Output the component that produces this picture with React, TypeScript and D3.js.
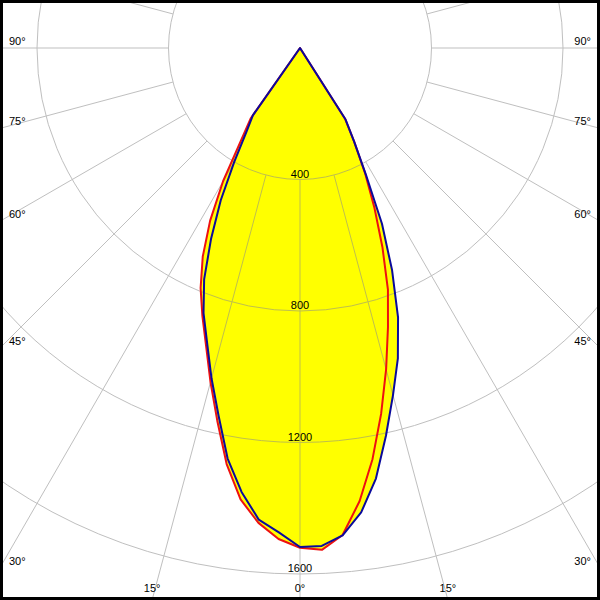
import { useRef, useEffect } from 'react';
import * as d3 from 'd3';

// ---------------------------------------------------------------------------
// Data (cd)
// ---------------------------------------------------------------------------

const ANGLES = [0, 2.5, 5, 7.5, 10, 12.5, 15, 17.5, 20, 22.5, 25, 27.5, 30, 32.5, 35, 37.5, 40];

// red plane: right half / left half
const RED_RIGHT = [1520, 1528, 1487, 1390, 1270, 1140, 1012, 890, 782, 655, 535, 428, 330, 255, 0, 0, 0];
const RED_LEFT = [1520, 1495, 1450, 1385, 1285, 1162, 1052, 950, 868, 790, 700, 592, 468, 335, 262, 0, 0];

// blue plane: right half / left half
const BLUE_RIGHT = [1518, 1516, 1488, 1425, 1330, 1208, 1093, 990, 872, 732, 590, 434, 330, 258, 0, 0, 0];
const BLUE_LEFT = [1518, 1475, 1440, 1362, 1268, 1145, 1040, 940, 858, 762, 640, 522, 400, 305, 250, 0, 0];

const RINGS = [400, 800, 1200, 1600, 2000, 2400];
const RING_LABELS = ['400', '800', '1200', '1600'];
const SPOKES = [0, 15, 30, 45, 60, 75, 90, 105, 120, 135, 150, 165, 180, 195, 210, 225, 240, 255, 270, 285, 300, 315, 330, 345];
const SIDE_LABELS = [90, 75, 60, 45, 30];
const BOTTOM_LABELS = [-15, 0, 15];

// ---------------------------------------------------------------------------
// Look
// ---------------------------------------------------------------------------

const W = 600;
const H = 600;
const CX = 300;
const CY = 48;
const FILL = '#ffff00';
const RED = '#ee1010';
const BLUE = '#0a0a9c';
const GRID = '#8c8c8c';
const FONT = '"Liberation Sans", Arial, sans-serif';

export default function App() {
  const svgRef = useRef<SVGSVGElement>(null);

  useEffect(() => {
    if (!svgRef.current) return;
    const svg = d3.select(svgRef.current);
    svg.selectAll('*').remove();

    const r = d3.scaleLinear().domain([0, 1600]).range([0, 526]);

    // angle measured from straight down, positive to the right
    const pt = (deg: number, v: number, side: number): [number, number] => {
      const a = (deg * Math.PI) / 180;
      return [CX + side * r(v) * Math.sin(a), CY + r(v) * Math.cos(a)];
    };

    const outline = (right: number[], left: number[]) => {
      const pts: [number, number][] = [];
      for (let i = ANGLES.length - 1; i >= 0; i--) pts.push(pt(ANGLES[i], left[i], -1));
      for (let i = 1; i < ANGLES.length; i++) pts.push(pt(ANGLES[i], right[i], 1));
      return pts;
    };

    const line = d3.line<[number, number]>().curve(d3.curveLinearClosed);
    const redPts = outline(RED_RIGHT, RED_LEFT);
    const bluePts = outline(BLUE_RIGHT, BLUE_LEFT);

    svg.append('rect').attr('width', W).attr('height', H).attr('fill', '#fff');

    // yellow fill is the union of both planes
    [redPts, bluePts].forEach((p) => {
      svg.append('path').attr('d', line(p)).attr('fill', FILL).attr('stroke', 'none');
    });

    // grid on top of the fill
    const grid = svg.append('g').attr('opacity', 0.55);
    grid.selectAll('circle')
      .data(RINGS)
      .join('circle')
      .attr('cx', CX)
      .attr('cy', CY)
      .attr('r', (d: number) => r(d))
      .attr('fill', 'none')
      .attr('stroke', GRID)
      .attr('stroke-width', 1);

    grid.selectAll('line')
      .data(SPOKES)
      .join('line')
      .attr('x1', (d: number) => pt(d, RINGS[0], 1)[0])
      .attr('y1', (d: number) => pt(d, RINGS[0], 1)[1])
      .attr('x2', (d: number) => pt(d, 3000, 1)[0])
      .attr('y2', (d: number) => pt(d, 3000, 1)[1])
      .attr('stroke', GRID)
      .attr('stroke-width', 1);

    // intensity curves
    svg.append('path').attr('d', line(redPts)).attr('fill', 'none')
      .attr('stroke', RED).attr('stroke-width', 2).attr('stroke-linejoin', 'round');
    svg.append('path').attr('d', line(bluePts)).attr('fill', 'none')
      .attr('stroke', BLUE).attr('stroke-width', 2).attr('stroke-linejoin', 'round');

    // ring labels
    svg.selectAll('.ring-label')
      .data(RING_LABELS)
      .join('text')
      .attr('x', CX)
      .attr('y', (_d: string, i: number) => CY + r(RINGS[i]) - 2)
      .attr('text-anchor', 'middle')
      .attr('font-family', FONT)
      .attr('font-size', 11)
      .attr('fill', '#000')
      .text((d: string) => d);

    // angle labels along the left / right edges
    const edgeY = (deg: number) => {
      const a = (deg * Math.PI) / 180;
      return CY + (CX * Math.cos(a)) / Math.sin(a);
    };
    [-1, 1].forEach((side) => {
      svg.selectAll(`.side-${side}`)
        .data(SIDE_LABELS)
        .join('text')
        .attr('x', side < 0 ? 9 : W - 9)
        .attr('y', (d: number) => edgeY(d) - 3)
        .attr('text-anchor', side < 0 ? 'start' : 'end')
        .attr('font-family', FONT)
        .attr('font-size', 11)
        .attr('fill', '#000')
        .text((d: number) => `${d}°`);
    });

    svg.selectAll('.bottom-label')
      .data(BOTTOM_LABELS)
      .join('text')
      .attr('x', (d: number) => CX + (H - CY) * Math.tan((d * Math.PI) / 180))
      .attr('y', H - 8)
      .attr('text-anchor', 'middle')
      .attr('font-family', FONT)
      .attr('font-size', 11)
      .attr('fill', '#000')
      .text((d: number) => `${Math.abs(d)}°`);

    // frame
    svg.append('rect')
      .attr('x', 1.5).attr('y', 1.5)
      .attr('width', W - 3).attr('height', H - 3)
      .attr('fill', 'none')
      .attr('stroke', '#000')
      .attr('stroke-width', 3);
  }, []);

  return (
    <div style={{ position: 'fixed', left: 0, top: 0, width: W, height: H }}>
      <svg ref={svgRef} width={W} height={H} style={{ display: 'block' }} />
    </div>
  );
}
